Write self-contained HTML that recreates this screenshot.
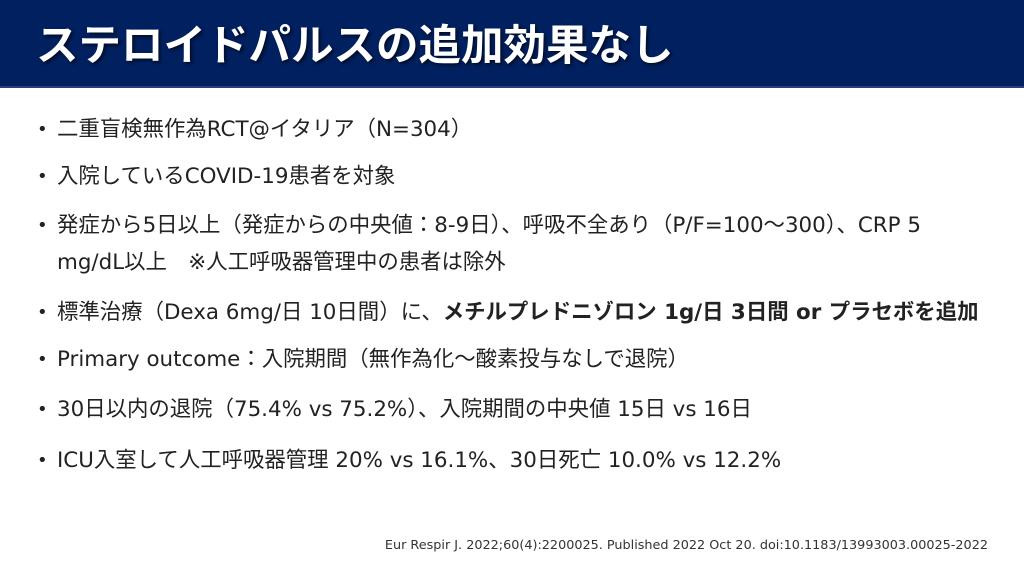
<!DOCTYPE html>
<html><head><meta charset="utf-8"><style>
body{margin:0;width:1024px;height:576px;background:#fff;position:relative;overflow:hidden;font-family:"DejaVu Sans","Noto Sans CJK JP",sans-serif;}
.hd{position:absolute;left:0;top:0;width:1024px;height:86px;background:#002060;border-bottom:2px solid #2a3f7a;}
.hd h1{position:absolute;left:36px;top:14px;margin:0;font-size:42.5px;line-height:58px;font-weight:bold;color:#fff;text-shadow:2px 2px 3px rgba(0,0,0,.6);white-space:nowrap;font-family:"Noto Sans CJK JP",sans-serif;}
.b{position:absolute;left:57px;font-size:21.4px;color:#222;white-space:nowrap;line-height:37px;}
.b:before{content:"•";position:absolute;left:-20px;font-size:18px;}
.c{position:absolute;right:36px;top:538px;font-size:12.8px;color:#333;white-space:nowrap;}
</style></head><body>
<div class="hd"><h1>ステロイドパルスの追加効果なし</h1></div>
<div class="b" style="top:111px">二重盲検無作為RCT@イタリア（N=304）</div>
<div class="b" style="top:158px">入院しているCOVID-19患者を対象</div>
<div class="b" style="top:207px">発症から5日以上（発症からの中央値：8-9日）、呼吸不全あり（P/F=100〜300）、CRP 5<br>mg/dL以上　※人工呼吸器管理中の患者は除外</div>
<div class="b" style="top:294px">標準治療（Dexa 6mg/日 10日間）に、<b>メチルプレドニゾロン 1g/日 3日間 or プラセボを追加</b></div>
<div class="b" style="top:341px">Primary outcome：入院期間（無作為化〜酸素投与なしで退院）</div>
<div class="b" style="top:391px">30日以内の退院（75.4% vs 75.2%）、入院期間の中央値 15日 vs 16日</div>
<div class="b" style="top:442px">ICU入室して人工呼吸器管理 20% vs 16.1%、30日死亡 10.0% vs 12.2%</div>
<div class="c">Eur Respir J. 2022;60(4):2200025. Published 2022 Oct 20. doi:10.1183/13993003.00025-2022</div>
</body></html>
